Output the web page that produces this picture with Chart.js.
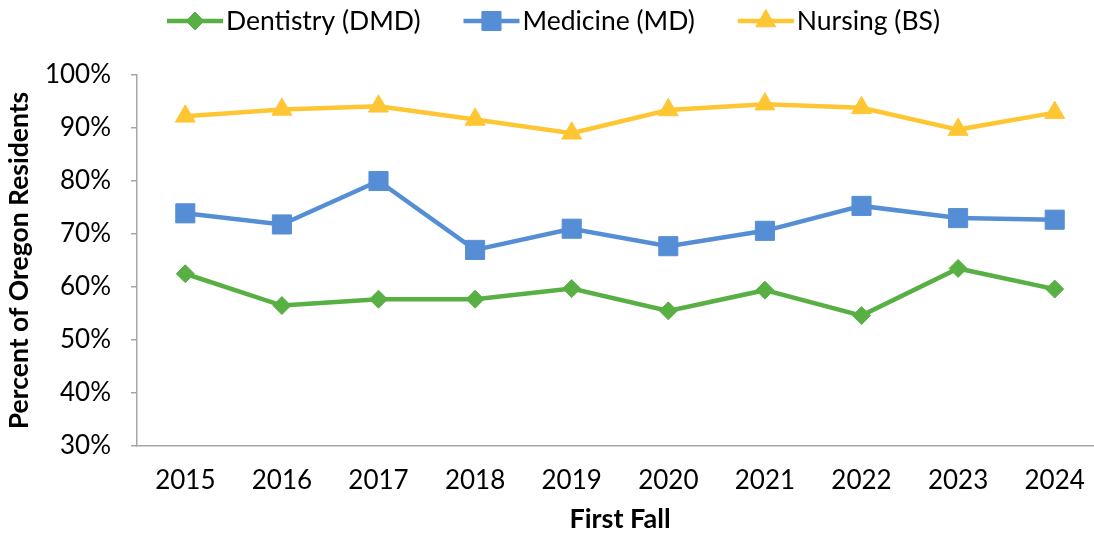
<!DOCTYPE html>
<html>
<head>
<meta charset="utf-8">
<script src="https://cdn.jsdelivr.net/npm/chart.js@4.4.1/dist/chart.umd.min.js"></script>
<style>
  html, body { margin: 0; padding: 0; background: #fff; overflow: hidden; }
  #wrap { width: 1110px; height: 533px; }
</style>
</head>
<body>
<div id="wrap"><canvas id="chart" width="1110" height="533"></canvas></div>
<script>
// Data
const years = ['2015', '2016', '2017', '2018', '2019', '2020', '2021', '2022', '2023', '2024'];
const dentistry = [62.5, 56.5, 57.7, 57.7, 59.7, 55.5, 59.4, 54.6, 63.5, 59.6];
const medicine  = [73.9, 71.8, 80.0, 67.0, 71.0, 67.7, 70.6, 75.3, 73.0, 72.7];
const nursing   = [92.2, 93.5, 94.1, 91.6, 89.0, 93.4, 94.5, 93.8, 89.7, 92.9];
const seriesNames = ['Dentistry (DMD)', 'Medicine (MD)', 'Nursing (BS)'];
const yTicks = [30, 40, 50, 60, 70, 80, 90, 100];

const GREEN = '#58B044', BLUE = '#568ED6', YELLOW = '#FFC633';
const FONT = 'Lato, "Open Sans", sans-serif';

function series(label, data, color, style, radius){
  return {
    label, data,
    borderColor: color, backgroundColor: color,
    borderWidth: 4.5,
    pointStyle: style, pointRadius: radius, pointHoverRadius: radius,
    pointBorderWidth: 1, pointBorderColor: color, pointBackgroundColor: color,
    tension: 0, clip: false
  };
}

// Legend drawn as line + marker, like the original
const lineLegend = {
  id: 'lineLegend',
  afterDraw(chart){
    const ctx = chart.ctx;
    const lineLen = 56, gap = 3, spacing = 43, cx = 553.5, cy = 21;
    ctx.save();
    ctx.font = '26.5px ' + FONT;
    const ds = chart.data.datasets;
    const widths = ds.map(d => lineLen + gap + ctx.measureText(d.label).width);
    const total = widths.reduce((a, b) => a + b, 0) + spacing * (ds.length - 1);
    let x = cx - total / 2;
    ds.forEach((d, i) => {
      ctx.strokeStyle = d.borderColor;
      ctx.lineWidth = 4.5;
      ctx.beginPath(); ctx.moveTo(x, cy); ctx.lineTo(x + lineLen, cy); ctx.stroke();
      ctx.fillStyle = d.backgroundColor;
      ctx.lineWidth = 1;
      Chart.helpers.drawPoint(ctx, { pointStyle: d.pointStyle, radius: d.pointRadius, borderWidth: 1, rotation: 0 }, x + lineLen / 2, cy);
      ctx.fillStyle = '#000';
      ctx.textBaseline = 'middle';
      ctx.textAlign = 'left';
      ctx.fillText(d.label, x + lineLen + gap, cy);
      x += widths[i] + spacing;
    });
    ctx.restore();
  }
};

new Chart(document.getElementById('chart'), {
  type: 'line',
  data: {
    labels: years,
    datasets: [
      series(seriesNames[0], dentistry, GREEN, 'rectRot', 9),
      series(seriesNames[1], medicine, BLUE, 'rect', 13.5),
      series(seriesNames[2], nursing, YELLOW, 'triangle', 11.5)
    ]
  },
  options: {
    responsive: false,
    animation: false,
    events: [],
    layout: { autoPadding: false, padding: { top: 75, left: 0, right: 7, bottom: 0 } },
    plugins: { legend: { display: false }, tooltip: { enabled: false } },
    scales: {
      x: {
        offset: true,
        grid: { display: false },
        border: { display: true, color: '#A6A6A6', width: 1.5 },
        ticks: { color: '#000', font: { family: FONT, size: 26 }, padding: 11, maxRotation: 0 },
        title: { display: true, text: 'First Fall', color: '#000', font: { family: FONT, size: 27, weight: 'bold', lineHeight: 1 }, padding: { top: 0, bottom: 0 } },
        afterFit(s){ s.height = 87; }
      },
      y: {
        min: 30, max: 100,
        afterBuildTicks(s){ s.ticks = yTicks.map(v => ({ value: v })); },
        grid: { drawOnChartArea: false, drawTicks: true, tickLength: 6, color: '#A6A6A6', lineWidth: 1.5 },
        border: { display: true, color: '#A6A6A6', width: 1.5 },
        ticks: { color: '#000', font: { family: FONT, size: 26 }, padding: 20, callback: v => v + '%' },
        title: { display: true, text: 'Percent of Oregon Residents', color: '#000', font: { family: FONT, size: 26.5, weight: 'bold' }, padding: { top: 4, bottom: 0 } },
        afterFit(s){ s.width = 137; }
      }
    }
  },
  plugins: [lineLegend]
});
</script>
</body>
</html>
